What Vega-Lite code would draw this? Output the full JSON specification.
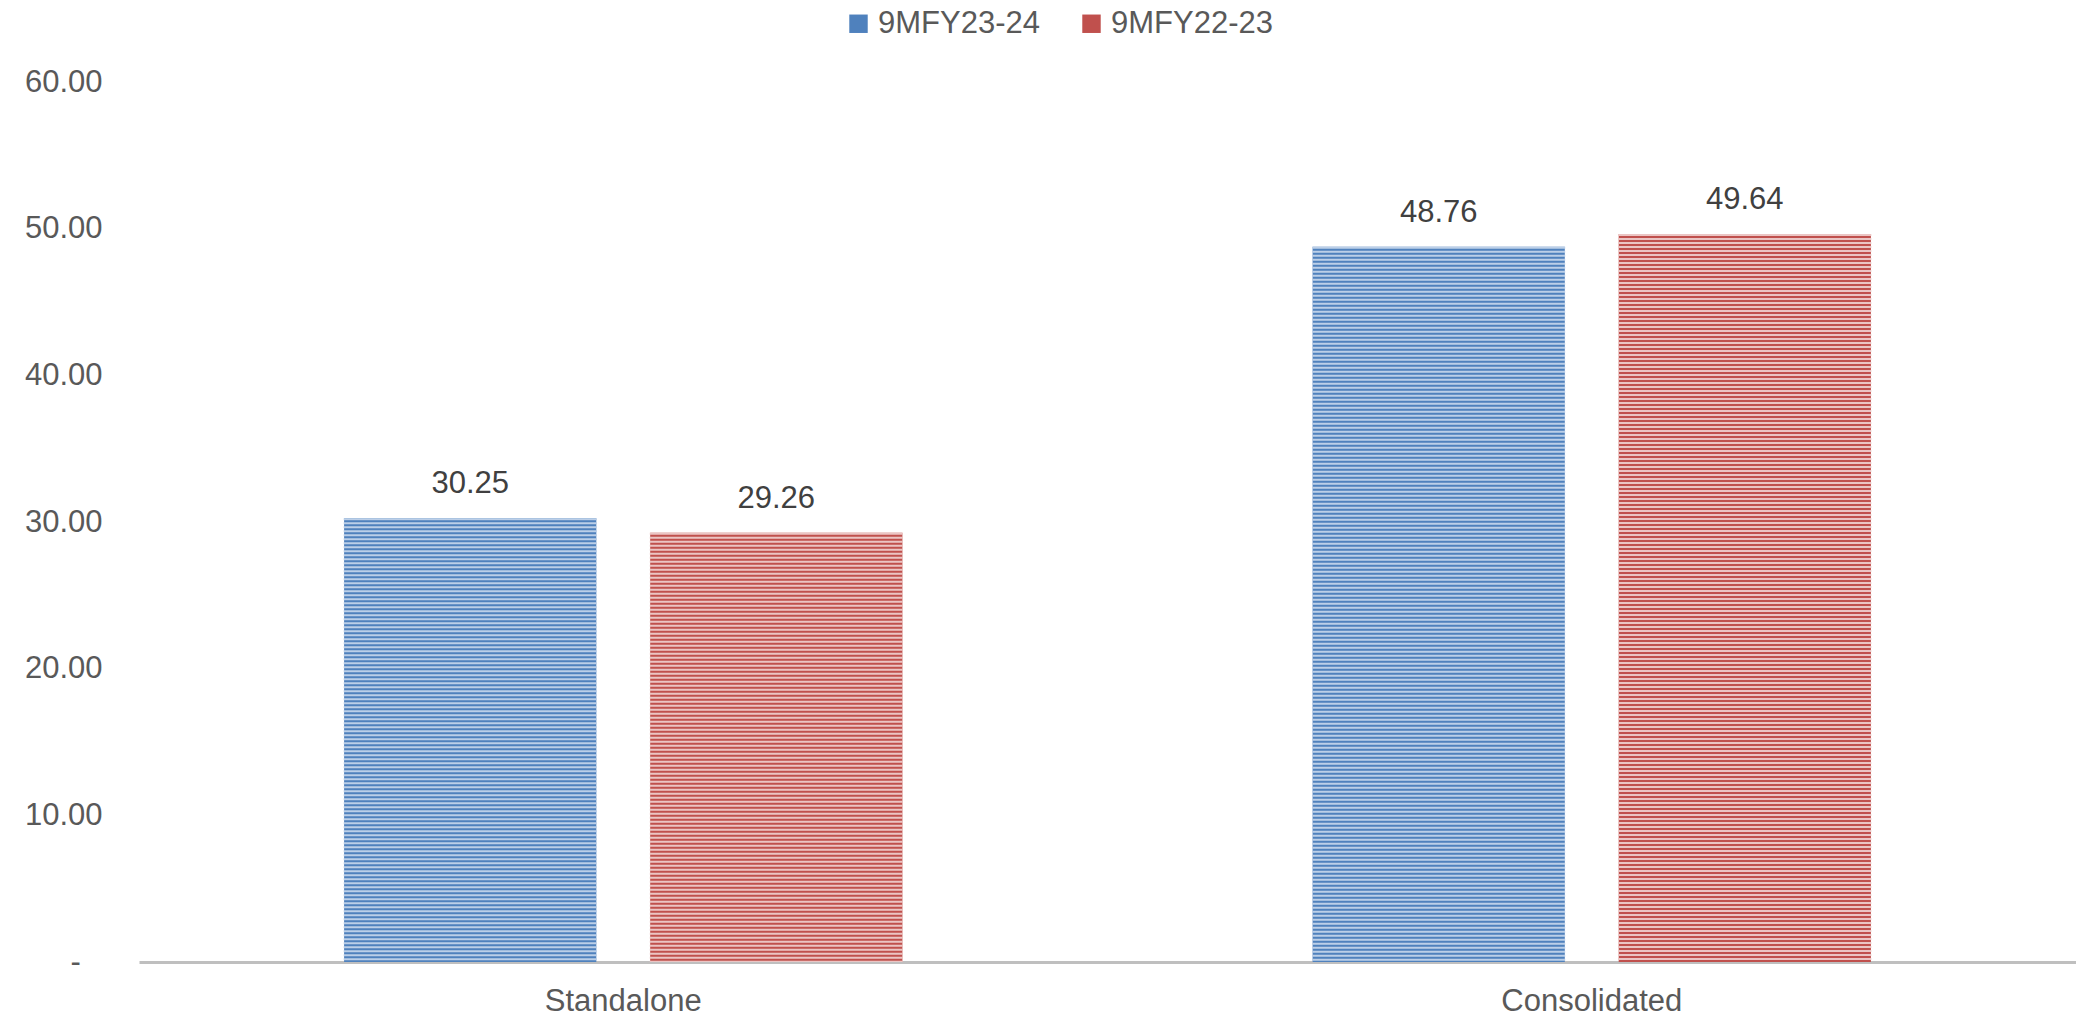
{
  "$schema": "https://vega.github.io/schema/vega-lite/v6.json",
  "width": 1937,
  "height": 880,
  "autosize": {"type": "none"},
  "padding": {"left": 139, "top": 82, "right": 0, "bottom": 55},
  "background": "white",
  "config": {
    "view": {"stroke": null},
    "font": "Liberation Sans"
  },
  "data": {
    "values": [
      {"category": "Standalone", "series": "9MFY23-24", "value": 30.25},
      {"category": "Standalone", "series": "9MFY22-23", "value": 29.26},
      {"category": "Consolidated", "series": "9MFY23-24", "value": 48.76},
      {"category": "Consolidated", "series": "9MFY22-23", "value": 49.64}
    ]
  },
  "encoding": {
    "x": {
      "field": "category",
      "type": "nominal",
      "sort": ["Standalone", "Consolidated"],
      "scale": {"paddingInner": 0, "paddingOuter": 0},
      "axis": {
        "title": null,
        "labelAngle": 0,
        "labelLimit": 0,
        "labelFont": "Liberation Sans",
        "labelFontSize": 31,
        "labelColor": "#595959",
        "labelPadding": 24,
        "ticks": false,
        "domainColor": "#bfbfbf",
        "domainWidth": 3,
        "grid": false
      }
    },
    "xOffset": {
      "field": "series",
      "type": "nominal",
      "sort": ["9MFY23-24", "9MFY22-23"],
      "scale": {"paddingInner": 0.176, "paddingOuter": 0.67}
    },
    "y": {
      "field": "value",
      "type": "quantitative",
      "scale": {"domain": [0, 60], "nice": false},
      "axis": {
        "title": null,
        "values": [0, 10, 20, 30, 40, 50, 60],
        "labelExpr": "datum.value == 0 ? '-\u2002\u2009\u200b' : format(datum.value, '.2f')",
        "labelFont": "Liberation Sans",
        "labelFontSize": 31,
        "labelColor": "#595959",
        "labelPadding": 37,
        "ticks": false,
        "domain": false,
        "grid": false
      }
    }
  },
  "layer": [
    {
      "mark": {"type": "bar"},
      "encoding": {
        "color": {
          "field": "series",
          "type": "nominal",
          "sort": ["9MFY23-24", "9MFY22-23"],
          "scale": {"domain": ["9MFY23-24", "9MFY22-23"], "range": ["#4f81bd", "#c0504d"]},
          "legend": {
            "title": null,
            "orient": "none",
            "direction": "horizontal",
            "legendX": 704,
            "legendY": -74,
            "symbolType": "square",
            "symbolSize": 340,
            "symbolStrokeWidth": 0,
            "labelLimit": 0,
            "labelFont": "Liberation Sans",
            "labelFontSize": 31,
            "labelColor": "#595959",
            "labelOffset": 4,
            "columnPadding": 36
          }
        }
      }
    },
    {
      "mark": {"type": "rule", "strokeWidth": 253, "strokeDash": [2, 2], "strokeCap": "butt"},
      "encoding": {
        "y2": {"datum": 0},
        "stroke": {
          "field": "series",
          "type": "nominal",
          "scale": {"domain": ["9MFY23-24", "9MFY22-23"], "range": ["#bccfe8", "#ebc5c4"]},
          "legend": null
        }
      }
    },
    {
      "mark": {"type": "text", "baseline": "bottom", "dy": -18, "font": "Liberation Sans", "fontSize": 31, "color": "#404040"},
      "encoding": {
        "text": {"field": "value", "type": "quantitative", "format": ".2f"}
      }
    }
  ]
}
